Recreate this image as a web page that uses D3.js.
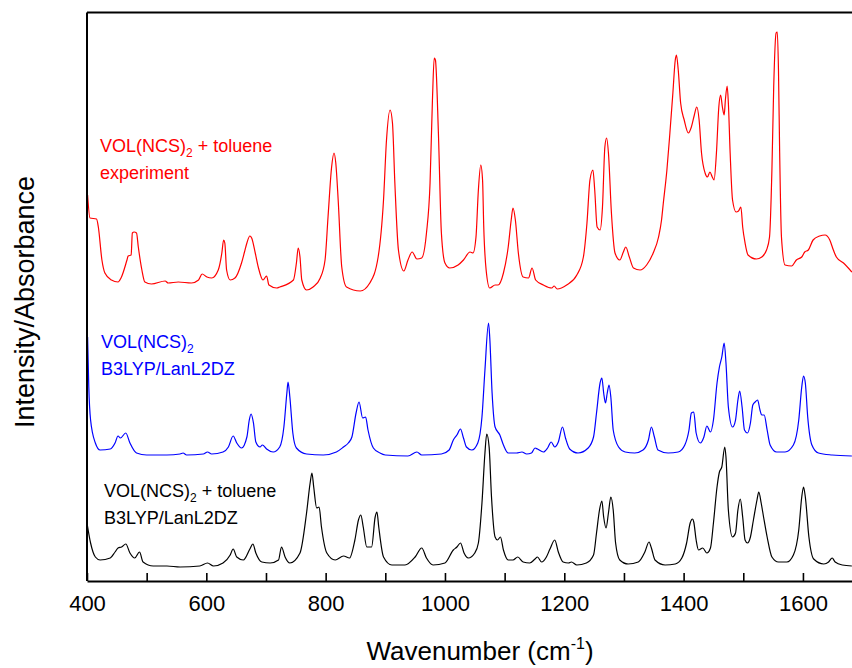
<!DOCTYPE html>
<html>
<head>
<meta charset="utf-8">
<script src="https://cdn.jsdelivr.net/npm/d3@7"></script>
<style>
  body { margin: 0; background: #fff; }
  text { font-family: "Liberation Sans", Arial, sans-serif; }
</style>
</head>
<body>
<div class="container"></div>
<script>
// spectra: [wavenumber (cm-1), intensity (a.u., stacked as plotted)]
const experiment = [
  [401,386],[405,363],[416,362],[419,354],[425,321],[430,308],[441,301],[452,299],[457,303],[467,321],
  [469,325],[474,326],[476,348],[479,349],[483,348],[486,334],[492,311],[497,299],[508,297],[531,300],
  [536,298],[553,299],[575,298],[587,301],[593,307],[601,304],[609,303],[620,311],[626,328],[629,341],
  [631,338],[634,311],[640,301],[648,303],[659,318],[664,329],[668,338],[673,345],[676,343],[682,328],
  [687,314],[695,301],[701,305],[705,296],[718,293],[723,294],[746,301],[751,318],[754,333],[757,324],
  [760,301],[768,291],[779,294],[791,303],[799,321],[804,364],[810,414],[814,428],[817,418],[821,381],
  [827,314],[835,294],[858,290],[874,298],[888,324],[897,381],[902,441],[908,471],[912,458],[916,398],
  [922,331],[931,310],[938,321],[945,329],[953,322],[961,323],[969,348],[975,398],[979,481],[982,523],
  [984,521],[989,448],[994,348],[1000,318],[1008,313],[1022,316],[1031,321],[1042,329],[1047,328],[1052,344],
  [1056,391],[1060,416],[1063,401],[1065,354],[1069,311],[1075,293],[1084,296],[1089,296],[1098,308],[1106,334],
  [1111,361],[1114,373],[1118,361],[1123,328],[1131,304],[1140,303],[1146,313],[1152,301],[1165,296],[1179,293],
  [1183,295],[1188,292],[1204,296],[1221,306],[1232,324],[1238,358],[1243,401],[1248,411],[1251,391],[1255,354],
  [1260,351],[1264,374],[1268,434],[1271,443],[1274,428],[1279,368],[1285,328],[1293,321],[1299,329],[1303,334],
  [1309,324],[1316,313],[1327,311],[1338,316],[1349,328],[1358,344],[1363,361],[1366,378],[1372,411],[1377,448],
  [1382,488],[1386,521],[1388,526],[1391,511],[1395,478],[1401,461],[1408,448],[1413,454],[1418,466],[1422,474],
  [1426,461],[1430,428],[1436,408],[1440,404],[1444,409],[1448,404],[1451,401],[1455,428],[1459,474],[1462,486],
  [1465,474],[1468,466],[1470,481],[1473,495],[1475,478],[1478,428],[1482,381],[1488,369],[1492,370],[1496,374],
  [1499,354],[1503,338],[1508,326],[1522,322],[1531,324],[1539,331],[1544,344],[1548,411],[1551,494],[1555,548],
  [1557,549],[1559,511],[1561,428],[1564,344],[1570,316],[1581,315],[1589,321],[1598,324],[1603,329],[1609,331],
  [1617,341],[1628,345],[1637,346],[1645,341],[1651,331],[1656,324],[1668,318],[1682,309]
];

const calcMonomer = [
  [401,244],[403,194],[406,161],[414,138],[422,131],[439,132],[447,138],[452,145],[456,143],[465,148],[472,138],
  [483,128],[500,126],[534,126],[556,127],[561,128],[567,126],[595,127],[602,129],[609,127],[628,129],
  [637,134],[645,145],[651,138],[659,133],[668,144],[672,161],[675,167],[679,158],[683,139],[690,134],
  [694,136],[701,132],[712,129],[723,134],[730,154],[735,188],[737,199],[740,184],[745,148],[751,133],
  [768,127],[796,126],[818,129],[830,134],[838,138],[844,144],[851,168],[856,179],[862,163],[867,164],
  [871,151],[880,133],[891,128],[900,126],[938,125],[953,129],[961,126],[994,127],[1007,131],[1014,141],
  [1020,146],[1026,152],[1031,143],[1036,134],[1045,131],[1055,138],[1062,164],[1067,211],[1073,258],[1075,244],
  [1079,188],[1084,154],[1092,146],[1098,136],[1106,128],[1120,128],[1129,129],[1137,127],[1145,128],[1151,133],
  [1155,132],[1165,129],[1172,133],[1178,139],[1184,134],[1190,139],[1197,154],[1202,143],[1209,132],[1223,128],
  [1240,133],[1249,144],[1254,168],[1260,198],[1263,203],[1266,188],[1269,178],[1272,188],[1275,196],[1278,184],
  [1282,151],[1291,134],[1302,129],[1318,128],[1332,131],[1341,141],[1346,154],[1351,144],[1357,131],[1374,128],
  [1391,129],[1402,136],[1409,151],[1413,168],[1417,169],[1421,148],[1428,138],[1434,144],[1439,155],[1445,149],
  [1450,161],[1456,198],[1460,214],[1464,224],[1468,238],[1471,218],[1475,174],[1482,154],[1487,161],[1491,181],
  [1494,190],[1498,174],[1502,151],[1507,148],[1512,158],[1516,176],[1520,179],[1524,181],[1528,171],[1531,166],
  [1535,166],[1540,151],[1545,136],[1556,129],[1570,129],[1584,136],[1593,161],[1598,194],[1601,205],[1604,198],
  [1608,164],[1615,136],[1626,128],[1649,126],[1682,125]
];

const calcToluene = [
  [400,58],[406,38],[414,24],[422,21],[439,23],[447,29],[452,33],[458,34],[465,37],[472,28],
  [480,23],[488,29],[494,19],[511,15],[534,15],[556,14],[589,15],[602,18],[612,15],[628,18],
  [640,26],[645,32],[651,24],[662,21],[673,32],[678,37],[683,28],[693,19],[707,18],[721,21],
  [726,34],[732,24],[740,18],[757,28],[768,68],[774,98],[777,108],[780,94],[785,73],[789,74],
  [793,54],[802,28],[816,21],[830,25],[840,23],[849,41],[855,61],[859,66],[863,54],[869,34],
  [877,34],[883,64],[886,69],[889,54],[897,24],[911,16],[933,16],[950,24],[961,33],[969,23],
  [980,16],[1000,18],[1014,31],[1020,34],[1026,38],[1032,28],[1039,23],[1050,28],[1056,38],[1062,78],
  [1067,128],[1070,147],[1074,134],[1078,84],[1084,44],[1088,41],[1093,44],[1098,31],[1106,21],[1114,21],
  [1122,24],[1131,19],[1142,18],[1151,22],[1155,24],[1162,19],[1170,24],[1176,32],[1184,41],[1190,29],
  [1198,19],[1207,18],[1212,19],[1221,16],[1237,18],[1249,26],[1254,48],[1259,71],[1263,80],[1266,64],
  [1270,53],[1274,68],[1278,84],[1282,71],[1286,38],[1293,21],[1307,17],[1324,19],[1335,29],[1342,39],
  [1346,33],[1352,21],[1369,16],[1386,17],[1397,23],[1405,38],[1411,58],[1415,62],[1417,59],[1421,41],
  [1425,31],[1432,33],[1439,28],[1445,33],[1450,58],[1456,94],[1460,109],[1464,114],[1469,134],[1471,124],
  [1475,71],[1482,44],[1487,48],[1491,71],[1495,82],[1499,64],[1503,41],[1507,38],[1512,44],[1517,61],
  [1523,81],[1526,89],[1530,78],[1534,64],[1540,44],[1548,24],[1559,19],[1573,19],[1584,26],[1593,51],
  [1598,84],[1601,94],[1604,84],[1610,44],[1618,22],[1635,17],[1643,19],[1649,23],[1654,19],[1666,16],
  [1682,15]
];

const xTicks = [400, 500, 600, 700, 800, 900, 1000, 1100, 1200, 1300, 1400, 1500, 1600];
const xTickLabels = [400, 600, 800, 1000, 1200, 1400, 1600];

const w = 852;
const h = 668;
const margin = { top: 12.5, left: 87, bottom: 87 };
const plotRight = 862.6;

const svg = d3.select('.container')
  .append('svg')
  .attr('width', w)
  .attr('height', h);

const xScale = d3.scaleLinear().domain([400, 1700]).range([margin.left, plotRight]);
const yScale = d3.scaleLinear().domain([0, 568.5]).range([h - margin.bottom, margin.top]);

svg.append('clipPath').attr('id', 'plot-clip')
  .append('rect')
  .attr('x', margin.left)
  .attr('y', margin.top)
  .attr('width', plotRight - margin.left)
  .attr('height', h - margin.bottom - margin.top);

const line = d3.line()
  .x(d => xScale(d[0]))
  .y(d => yScale(d[1]))
  .curve(d3.curveMonotoneX);

const series = [
  { data: experiment, color: '#ff0000' },
  { data: calcMonomer, color: '#0000ff' },
  { data: calcToluene, color: '#000000' },
];

svg.append('g')
  .attr('clip-path', 'url(#plot-clip)')
  .selectAll('path')
  .data(series)
  .join('path')
  .attr('d', d => line(d.data))
  .attr('fill', 'none')
  .attr('stroke', d => d.color)
  .attr('stroke-width', 1.2);

// x axis, ticks pointing into the plot
const xAxis = d3.axisBottom(xScale)
  .tickValues(xTicks)
  .tickSizeInner(-8)
  .tickSizeOuter(0)
  .tickPadding(14)
  .tickFormat(d => xTickLabels.includes(d) ? d : '');

const gx = svg.append('g')
  .attr('transform', `translate(0, ${h - margin.bottom})`)
  .call(xAxis);
gx.select('.domain').attr('stroke-width', 2);
gx.selectAll('.tick line').attr('stroke-width', 1.6);
gx.selectAll('.tick text')
  .style('font-size', '22px')
  .attr('fill', '#000');

// frame: left and top
svg.append('line')
  .attr('x1', margin.left).attr('x2', margin.left)
  .attr('y1', margin.top).attr('y2', h - margin.bottom)
  .attr('stroke', '#000').attr('stroke-width', 2);
svg.append('line')
  .attr('x1', margin.left).attr('x2', w)
  .attr('y1', margin.top).attr('y2', margin.top)
  .attr('stroke', '#000').attr('stroke-width', 2);

// axis titles
const xTitle = svg.append('text')
  .attr('x', 480)
  .attr('y', 660)
  .attr('text-anchor', 'middle')
  .style('font-size', '26px');
xTitle.append('tspan').text('Wavenumber (cm');
xTitle.append('tspan').attr('dy', -11).style('font-size', '16px').text('-1');
xTitle.append('tspan').attr('dy', 11).text(')');

svg.append('text')
  .attr('transform', 'translate(34, 302) rotate(-90)')
  .attr('text-anchor', 'middle')
  .style('font-size', '27px')
  .text('Intensity/Absorbance');

// spectrum labels
const labels = [
  { x: 100, y: 152, color: '#ff0000', lines: [['VOL(NCS)', '2', ' + toluene'], ['experiment']] },
  { x: 101, y: 348, color: '#0000ff', lines: [['VOL(NCS)', '2', ''], ['B3LYP/LanL2DZ']] },
  { x: 104, y: 497, color: '#000000', lines: [['VOL(NCS)', '2', ' + toluene'], ['B3LYP/LanL2DZ']] },
];

labels.forEach(lab => {
  lab.lines.forEach((parts, i) => {
    const t = svg.append('text')
      .attr('x', lab.x)
      .attr('y', lab.y + i * 27)
      .attr('fill', lab.color)
      .style('font-size', '18px');
    t.append('tspan').text(parts[0]);
    if (parts.length > 1) {
      t.append('tspan').attr('dy', 5).style('font-size', '12px').text(parts[1]);
      t.append('tspan').attr('dy', -5).text(parts[2]);
    }
  });
});
</script>
</body>
</html>
